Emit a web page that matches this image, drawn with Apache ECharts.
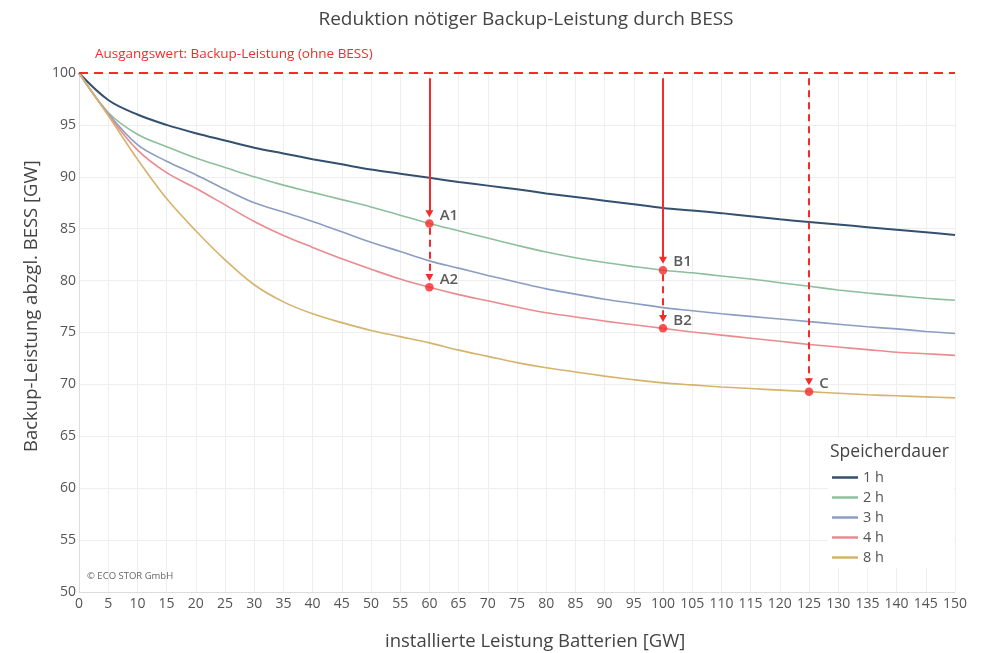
<!DOCTYPE html>
<html>
<head>
<meta charset="utf-8">
<script src="https://cdn.jsdelivr.net/npm/echarts@6/dist/echarts.min.js"></script>
<style>
  html, body { margin: 0; padding: 0; background: #fff; }
  #chart { width: 992px; height: 653px; }
</style>
</head>
<body>
<div id="chart"></div>
<script>
// installierte Leistung Batterien [GW]
const xGW = [0, 5, 10, 15, 20, 25, 30, 35, 40, 45, 50, 55, 60, 65, 70, 75, 80, 85, 90, 95, 100, 105, 110, 115, 120, 125, 130, 135, 140, 145, 150]

// Backup-Leistung abzgl. BESS [GW], je Speicherdauer
const dur1h = [100, 97.4, 96.0, 95.0, 94.2, 93.5, 92.8, 92.25, 91.7, 91.2, 90.7, 90.3, 89.9, 89.5, 89.15, 88.8, 88.4, 88.05, 87.7, 87.35, 87.0, 86.75, 86.5, 86.2, 85.9, 85.65, 85.4, 85.15, 84.9, 84.65, 84.4]
const dur2h = [100, 96.2, 94.1, 92.9, 91.8, 90.9, 90.0, 89.2, 88.5, 87.8, 87.1, 86.3, 85.5, 84.8, 84.1, 83.4, 82.75, 82.2, 81.75, 81.35, 81.0, 80.75, 80.45, 80.15, 79.8, 79.45, 79.1, 78.8, 78.55, 78.3, 78.1]
const dur3h = [100, 96.1, 93.1, 91.5, 90.2, 88.8, 87.5, 86.6, 85.7, 84.7, 83.7, 82.8, 81.9, 81.2, 80.5, 79.85, 79.2, 78.7, 78.2, 77.8, 77.4, 77.1, 76.8, 76.55, 76.3, 76.05, 75.8, 75.55, 75.35, 75.1, 74.9]
const dur4h = [100, 96.0, 92.6, 90.4, 88.9, 87.3, 85.7, 84.35, 83.2, 82.1, 81.1, 80.15, 79.35, 78.65, 78.05, 77.45, 76.9, 76.5, 76.1, 75.75, 75.4, 75.05, 74.75, 74.45, 74.15, 73.85, 73.6, 73.35, 73.1, 72.95, 72.8]
const dur8h = [100, 95.9, 91.7, 87.9, 84.8, 82.0, 79.6, 77.95, 76.8, 75.95, 75.2, 74.6, 74.0, 73.3, 72.7, 72.1, 71.6, 71.2, 70.8, 70.45, 70.15, 69.95, 69.75, 69.6, 69.45, 69.3, 69.15, 69.0, 68.9, 68.8, 68.7]

const seriesNames = ["1 h", "2 h", "3 h", "4 h", "8 h"]
const seriesValues = [dur1h, dur2h, dur3h, dur4h, dur8h]
const seriesColors = ["#34506f", "#8dbf9c", "#8b9dc3", "#e98b8f", "#d6b36c"]

const yTicks = [50, 55, 60, 65, 70, 75, 80, 85, 90, 95, 100]
const baseline = 100
const arrowTop = 99.5

const red = "#f52b2b"
const idx = (x) => xGW.indexOf(x)

// markierte Punkte
const pointLabels = ["A1", "A2", "B1", "B2", "C"]
const points = [
	[60, dur2h[idx(60)]],
	[60, dur4h[idx(60)]],
	[100, dur2h[idx(100)]],
	[100, dur4h[idx(100)]],
	[125, dur8h[idx(125)]]
]

// Pfeilspitze endet etwas oberhalb des Punktes
const tipGap = 0.95
const solidArrows = [
	[[60, arrowTop], [60, points[0][1] + tipGap]],
	[[100, arrowTop], [100, points[2][1] + tipGap]]
]
const dashedArrows = [
	[[60, points[0][1] - 0.4], [60, points[1][1] + tipGap]],
	[[100, points[2][1] - 0.4], [100, points[3][1] + tipGap]],
	[[125, arrowTop], [125, points[4][1] + tipGap]]
]

const chart = echarts.init(document.getElementById("chart"))
const font = "'Open Sans', 'Noto Sans', sans-serif"

const lineSeries = seriesNames.map((name, i) => ({
	name: name,
	type: "line",
	data: xGW.map((x, j) => [x, seriesValues[i][j]]),
	showSymbol: false,
	smooth: 0.35,
	color: seriesColors[i],
	lineStyle: { width: i === 0 ? 2 : 1.6, color: seriesColors[i] },
	z: 3,
	silent: true
}))

const arrowLine = (pair) => [
	{ coord: pair[0], symbol: "none" },
	{ coord: pair[1], symbol: "triangle", symbolSize: [8, 7] }
]

const option = {
	backgroundColor: "#fff",
	animation: false,
	textStyle: { fontFamily: font },
	title: {
		text: "Reduktion nötiger Backup-Leistung durch BESS",
		left: 521,
		textAlign: "center",
		top: 5,
		textStyle: { fontSize: 19, fontWeight: "normal", color: "#444", fontFamily: font }
	},
	grid: { left: 79, right: 37, top: 73, bottom: 61 },
	xAxis: {
		type: "value",
		min: 0,
		max: 150,
		interval: 5,
		axisLine: { show: true, lineStyle: { color: "#dcdcdc" } },
		axisTick: { show: false },
		splitLine: { show: true, lineStyle: { color: "#eeeeee" } },
		axisLabel: { color: "#555", fontSize: 14, margin: 5, fontFamily: font }
	},
	yAxis: {
		type: "value",
		min: yTicks[0],
		max: yTicks[yTicks.length - 1],
		interval: 5,
		axisLine: { show: true, lineStyle: { color: "#dcdcdc" } },
		axisTick: { show: false },
		splitLine: { show: true, lineStyle: { color: "#eeeeee" } },
		axisLabel: { color: "#555", fontSize: 14, margin: 3, fontFamily: font }
	},
	legend: {
		data: seriesNames,
		orient: "vertical",
		left: 827,
		top: 465,
		icon: "rect",
		itemWidth: 26,
		itemHeight: 2.5,
		itemGap: 5,
		z: 5,
		textStyle: { fontSize: 14.5, color: "#555", fontFamily: font }
	},
	graphic: [
		{ type: "rect", left: 828, top: 438, shape: { width: 126, height: 130 }, style: { fill: "#fff" }, z: 4 },
		{ type: "text", left: 830, top: 443, z: 5, style: { text: "Speicherdauer", fontSize: 17.5, fill: "#444", fontFamily: font } },
		{ type: "text", left: 87, top: 571, z: 5, style: { text: "© ECO STOR GmbH", fontSize: 9.5, fill: "#666", fontFamily: font } },
		{ type: "text", left: 385, top: 632, style: { text: "installierte Leistung Batterien [GW]", fontSize: 18.5, fill: "#444", fontFamily: font } },
		{ type: "text", x: 22, y: 452, rotation: Math.PI / 2, style: { text: "Backup-Leistung abzgl. BESS [GW]", fontSize: 18.5, fill: "#444", fontFamily: font } }
	],
	series: [
		...lineSeries,
		{
			name: "Ausgangswert",
			type: "line",
			data: [],
			silent: true,
			z: 4,
			markLine: {
				silent: true,
				symbol: "none",
				animation: false,
				lineStyle: { color: red, type: [9, 6], width: 2 },
				label: {
					show: true,
					position: "insideStartTop",
					distance: [16, 12],
					formatter: "Ausgangswert: Backup-Leistung (ohne BESS)",
					color: red,
					fontSize: 13.5,
					fontFamily: font
				},
				data: [[{ coord: [xGW[0], baseline] }, { coord: [xGW[xGW.length - 1], baseline] }]]
			}
		},
		{
			name: "Pfeile",
			type: "line",
			data: [],
			silent: true,
			z: 5,
			markLine: {
				silent: true,
				animation: false,
				label: { show: false },
				lineStyle: { color: red, type: "solid", width: 2 },
				data: solidArrows.map((p) => arrowLine(p))
			}
		},
		{
			name: "PfeileGestrichelt",
			type: "line",
			data: [],
			silent: true,
			z: 5,
			markLine: {
				silent: true,
				animation: false,
				label: { show: false },
				lineStyle: { color: red, type: [7, 5], width: 2 },
				data: dashedArrows.map((p) => arrowLine(p))
			}
		},
		{
			name: "Punkte",
			type: "scatter",
			data: points.map((p, i) => ({ value: p, name: pointLabels[i] })),
			symbolSize: 8.5,
			itemStyle: { color: red },
			z: 6,
			silent: true,
			label: {
				show: true,
				position: "right",
				offset: [1, -8],
				formatter: "{b}",
				color: "#333",
				fontSize: 15,
				fontWeight: 600,
				fontFamily: font
			}
		}
	]
}

chart.setOption(option)
</script>
</body>
</html>
